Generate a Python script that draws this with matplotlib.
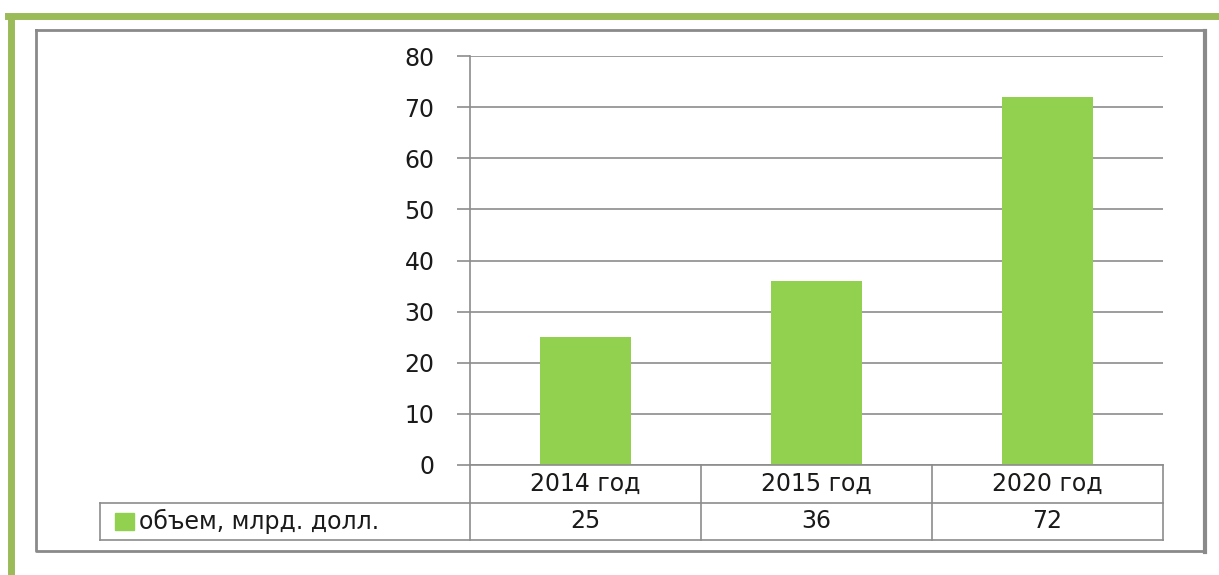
import matplotlib.pyplot as plt
from matplotlib.lines import Line2D
from matplotlib.patches import Rectangle

categories = ["2014 год", "2015 год", "2020 год"]
values = [25, 36, 72]
series_name = "объем, млрд. долл."
yticks = [0, 10, 20, 30, 40, 50, 60, 70, 80]

W, H = 1219, 575
bar_color = "#92D050"
grid_color = "#8c8c8c"
text_color = "#1a1a1a"
font = "DejaVu Sans"
fs = 17

fig = plt.figure(figsize=(W / 100, H / 100), dpi=100)

def fx(px):
  return px / W

def fy(py):
  return 1 - py / H

# axes area in pixels
ax_l, ax_r, ax_t, ax_b = 470, 1163, 56, 465
ax = fig.add_axes([fx(ax_l), fy(ax_b), fx(ax_r - ax_l), fy(ax_t) - fy(ax_b)])

x = range(len(categories))
ax.bar(x, values, width=0.395, color=bar_color, zorder=3)
ax.set_xlim(-0.5, len(categories) - 0.5)
ax.set_ylim(0, 80)
ax.set_yticks(yticks)
ax.set_yticklabels([str(t) for t in yticks], fontsize=fs, family=font, color=text_color)
ax.tick_params(axis="y", length=9.5, width=1.2, color=grid_color, pad=16)
ax.set_xticks([])
ax.grid(axis="y", color=grid_color, linewidth=1.2, zorder=0)
for s in ["top", "right", "bottom"]:
  ax.spines[s].set_visible(False)
ax.spines["left"].set_color(grid_color)
ax.spines["left"].set_linewidth(1.2)

# data table under the axes
def hline(x0, x1, y, c=grid_color, lw=1.2):
  fig.add_artist(Line2D([fx(x0), fx(x1)], [fy(y), fy(y)], color=c, lw=lw))

def vline(xp, y0, y1, c=grid_color, lw=1.2):
  fig.add_artist(Line2D([fx(xp), fx(xp)], [fy(y0), fy(y1)], color=c, lw=lw))

row1, row2, row3 = 465, 503, 540
cell_w = (ax_r - ax_l) / len(categories)
hline(ax_l, ax_r, row1)
hline(100, ax_r, row2)
hline(100, ax_r, row3)
vline(100, row2, row3)
for i in range(len(categories) + 1):
  vline(ax_l + i * cell_w, row1, row3)

for i, (cat, val) in enumerate(zip(categories, values)):
  cx = ax_l + (i + 0.5) * cell_w
  fig.text(fx(cx), fy((row1 + row2) / 2), cat, ha="center", va="center",
           fontsize=fs, family=font, color=text_color)
  fig.text(fx(cx), fy((row2 + row3) / 2), str(val), ha="center", va="center",
           fontsize=fs, family=font, color=text_color)

fig.add_artist(Rectangle((fx(115), fy(530)), fx(19), fy(513) - fy(530),
                         color=bar_color, transform=fig.transFigure))
fig.text(fx(139), fy((row2 + row3) / 2), series_name, ha="left", va="center",
         fontsize=fs, family=font, color=text_color)

# outer gray frame
frame_c = "#8a8a8a"
fig.add_artist(Line2D([fx(36), fx(1204), fx(1204), fx(36), fx(36)],
                      [fy(30), fy(30), fy(551), fy(551), fy(30)], color=frame_c, lw=2))
fig.add_artist(Line2D([fx(1205), fx(1205)], [fy(31), fy(552)], color=frame_c, lw=3))

# green decorative border
green = "#9BBB59"
fig.add_artist(Line2D([fx(8), fx(1219)], [fy(16), fy(16)], color=green, lw=5))
fig.add_artist(Line2D([fx(11), fx(11)], [fy(18), fy(575)], color=green, lw=5))

fig.savefig("out.png", dpi=100)
